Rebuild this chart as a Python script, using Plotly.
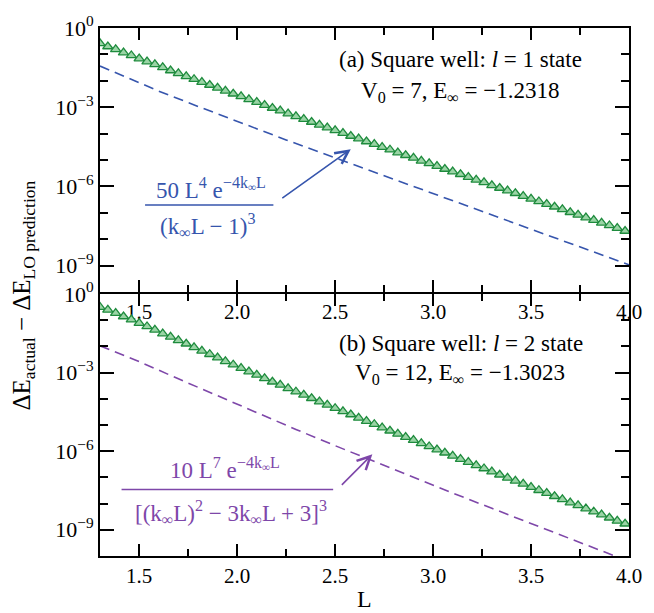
import plotly.graph_objects as go

# ---------------- data ----------------
L = [1.30, 1.34, 1.38, 1.42, 1.46, 1.50, 1.54, 1.58, 1.62, 1.66,
     1.70, 1.74, 1.78, 1.82, 1.86, 1.90, 1.94, 1.98, 2.02, 2.06,
     2.10, 2.14, 2.18, 2.22, 2.26, 2.30, 2.34, 2.38, 2.42, 2.46,
     2.50, 2.54, 2.58, 2.62, 2.66, 2.70, 2.74, 2.78, 2.82, 2.86,
     2.90, 2.94, 2.98, 3.02, 3.06, 3.10, 3.14, 3.18, 3.22, 3.26,
     3.30, 3.34, 3.38, 3.42, 3.46, 3.50, 3.54, 3.58, 3.62, 3.66,
     3.70, 3.74, 3.78, 3.82, 3.86, 3.90, 3.94, 3.98]

# log10 of ΔE_actual − ΔE_LO for panel (a), l = 1
a_tri_log10 = [-0.58, -0.70, -0.81, -0.93, -1.04, -1.16, -1.27, -1.38, -1.49, -1.61,
               -1.72, -1.83, -1.94, -2.05, -2.16, -2.27, -2.38, -2.49, -2.59, -2.70,
               -2.81, -2.92, -3.03, -3.13, -3.24, -3.35, -3.45, -3.56, -3.67, -3.77,
               -3.88, -3.98, -4.09, -4.19, -4.30, -4.40, -4.51, -4.61, -4.72, -4.82,
               -4.92, -5.03, -5.13, -5.23, -5.34, -5.44, -5.54, -5.65, -5.75, -5.85,
               -5.96, -6.06, -6.16, -6.26, -6.37, -6.47, -6.57, -6.67, -6.77, -6.87,
               -6.98, -7.08, -7.18, -7.28, -7.38, -7.48, -7.58, -7.69]

# log10 of ΔE_actual − ΔE_LO for panel (b), l = 2
b_tri_log10 = [-0.50, -0.61, -0.73, -0.86, -0.98, -1.11, -1.24, -1.37, -1.51, -1.64,
               -1.77, -1.90, -2.04, -2.17, -2.30, -2.43, -2.57, -2.70, -2.83, -2.96,
               -3.09, -3.22, -3.35, -3.47, -3.60, -3.73, -3.85, -3.98, -4.11, -4.23,
               -4.36, -4.48, -4.60, -4.73, -4.85, -4.97, -5.10, -5.22, -5.34, -5.46,
               -5.58, -5.70, -5.82, -5.94, -6.06, -6.18, -6.30, -6.42, -6.54, -6.66,
               -6.78, -6.90, -7.02, -7.13, -7.25, -7.37, -7.49, -7.60, -7.72, -7.84,
               -7.96, -8.07, -8.19, -8.31, -8.42, -8.54, -8.66, -8.77]

# dashed prediction curves
a_dash_L = [1.30, 1.45, 1.60, 1.80, 2.00, 2.25, 2.50, 2.75, 3.00, 3.25, 3.50, 3.75, 4.00]
a_dash_log10 = [-1.44, -1.93, -2.39, -2.97, -3.54, -4.24, -4.92, -5.60, -6.28, -6.95, -7.63, -8.30, -8.97]

b_dash_L = [1.30, 1.50, 1.70, 1.90, 2.10, 2.30, 2.50, 2.70, 2.90, 3.10, 3.30, 3.50, 3.70, 3.90, 4.00]
b_dash_log10 = [-1.98, -2.58, -3.24, -3.89, -4.54, -5.17, -5.79, -6.40, -7.00, -7.60, -8.18, -8.77, -9.35, -9.92, -10.21]

x_major = [1.5, 2.0, 2.5, 3.0, 3.5, 4.0]
x_major_text = ["1.5", "2.0", "2.5", "3.0", "3.5", "4.0"]
x_minor = [1.75, 2.25, 2.75, 3.25, 3.75]
y_major = [1e0, 1e-3, 1e-6, 1e-9]
y_major_text = ["10<sup>0</sup>", "10<sup>−3</sup>", "10<sup>−6</sup>", "10<sup>−9</sup>"]
y_minor = [1e-1, 1e-2, 1e-4, 1e-5, 1e-7, 1e-8]

# ---------------- style ----------------
FONT = "Liberation Serif"
BLUE = "#3655ad"
PURPLE = "#7e47a9"
GREEN_FILL = "#9ad4a5"
GREEN_LINE = "#1e8b3d"

W, H = 654, 613
ML, MR, MT, MB = 100, 14, 16, 57
PW, PH = W - ML - MR, H - MT - MB
LW = 2


def px(x):
    return (x - ML) / PW


def py(y):
    return (H - MB - y) / PH


fig = go.Figure()

marker = dict(symbol="triangle-up", size=9, color=GREEN_FILL,
              line=dict(color=GREEN_LINE, width=1.3))

fig.add_trace(go.Scatter(x=a_dash_L, y=[10 ** v for v in a_dash_log10], mode="lines",
                         line=dict(color=BLUE, width=1.6, dash="10px,6px"),
                         xaxis="x", yaxis="y", showlegend=False, hoverinfo="skip"))
fig.add_trace(go.Scatter(x=L, y=[10 ** v for v in a_tri_log10], mode="markers",
                         marker=marker, xaxis="x", yaxis="y", showlegend=False))
fig.add_trace(go.Scatter(x=b_dash_L, y=[10 ** v for v in b_dash_log10], mode="lines",
                         line=dict(color=PURPLE, width=1.6, dash="10px,6px"),
                         xaxis="x2", yaxis="y2", showlegend=False, hoverinfo="skip"))
fig.add_trace(go.Scatter(x=L, y=[10 ** v for v in b_tri_log10], mode="markers",
                         marker=marker, xaxis="x2", yaxis="y2", showlegend=False))

xcommon = dict(range=[1.3, 4.0], tickvals=x_major, ticktext=x_major_text,
               ticks="inside", ticklen=12, tickwidth=1.5, tickcolor="black",
               minor=dict(tickvals=x_minor, ticks="inside", ticklen=7, tickwidth=1.5, tickcolor="black"),
               showline=True, linewidth=LW, linecolor="black", mirror="ticks",
               showgrid=False, zeroline=False,
               tickfont=dict(family=FONT, size=21, color="black"))
ycommon = dict(type="log", range=[-10, 0], tickvals=y_major, ticktext=y_major_text,
               ticks="inside", ticklen=14, tickwidth=1.5, tickcolor="black",
               minor=dict(tickvals=y_minor, ticks="inside", ticklen=8, tickwidth=1.5, tickcolor="black"),
               showline=True, linewidth=LW, linecolor="black", mirror="ticks",
               showgrid=False, zeroline=False,
               tickfont=dict(family=FONT, size=22, color="black"))

split = 0.5
fig.update_layout(
    width=W, height=H,
    margin=dict(l=ML, r=MR, t=MT, b=MB),
    paper_bgcolor="white", plot_bgcolor="white",
    xaxis=dict(xcommon, anchor="y", domain=[0, 1]),
    yaxis=dict(ycommon, anchor="x", domain=[split, 1]),
    xaxis2=dict(xcommon, anchor="y2", domain=[0, 1]),
    yaxis2=dict(ycommon, anchor="x2", domain=[0, split - LW / PH]),
    font=dict(family=FONT, color="black"),
)

ann = []


def text(x, y, s, size=23, color="black", angle=0):
    ann.append(dict(x=px(x), y=py(y), xref="paper", yref="paper", text=s, showarrow=False,
                    font=dict(family=FONT, size=size, color=color), textangle=angle,
                    xanchor="center", yanchor="middle"))


# panel labels
text(468, 48, "(a) Square well: <i>l</i> = 1 state")
text(467, 81, "V<sub>0</sub> = 7, E<sub>∞</sub> = −1.2318")
text(468, 339, "(b) Square well: <i>l</i> = 2 state")
text(467, 370, "V<sub>0</sub> = 12, E<sub>∞</sub> = −1.3023")

# blue fraction
text(213, 180, "50 L<sup>4</sup> e<sup>−4k<sub>∞</sub>L</sup>", color=BLUE)
text(210, 218, "(k<sub>∞</sub>L − 1)<sup>3</sup>", color=BLUE)
# purple fraction
text(228, 466, "10 L<sup>7</sup> e<sup>−4k<sub>∞</sub>L</sup>", color=PURPLE)
text(234, 512, "[(k<sub>∞</sub>L)<sup>2</sup> − 3k<sub>∞</sub>L + 3]<sup>3</sup>", color=PURPLE)

# axis titles
text(22, 290, "ΔE<sub>actual</sub> − ΔE<sub>LO prediction</sub>", size=25, angle=-90)
text(370, 600, "L", size=24)

# arrows
ann.append(dict(x=px(356), y=py(140), xref="paper", yref="paper", ax=286 - 356, ay=190 - 140,
                showarrow=True, arrowhead=5, arrowsize=1.6, arrowwidth=1.6, arrowcolor=BLUE, text=""))
ann.append(dict(x=px(378), y=py(452), xref="paper", yref="paper", ax=346 - 378, ay=484 - 452,
                showarrow=True, arrowhead=5, arrowsize=1.6, arrowwidth=1.6, arrowcolor=PURPLE, text=""))

fig.update_layout(annotations=ann)

# fraction bars
fig.add_shape(type="line", xref="paper", yref="paper", x0=px(146), x1=px(277), y0=py(197), y1=py(197),
              line=dict(color=BLUE, width=1.5))
fig.add_shape(type="line", xref="paper", yref="paper", x0=px(122), x1=px(338), y0=py(488), y1=py(488),
              line=dict(color=PURPLE, width=1.5))

fig.write_html("out.html")
